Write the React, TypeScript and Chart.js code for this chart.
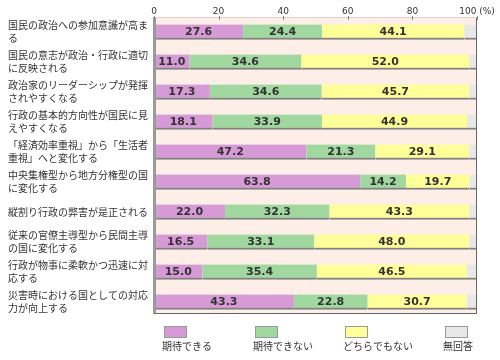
import React, { useEffect, useRef } from "react";
import { Chart, registerables } from "chart.js";

Chart.register(...registerables);

const categories: (string | string[])[] = [
  ["国民の政治への参加意識が高ま", "る"],
  ["国民の意志が政治・行政に適切", "に反映される"],
  ["政治家のリーダーシップが発揮", "されやすくなる"],
  ["行政の基本的方向性が国民に見", "えやすくなる"],
  ["「経済効率重視」から「生活者", "重視」へと変化する"],
  ["中央集権型から地方分権型の国", "に変化する"],
  "縦割り行政の弊害が是正される",
  ["従来の官僚主導型から民間主導", "の国に変化する"],
  ["行政が物事に柔軟かつ迅速に対", "応する"],
  ["災害時における国としての対応", "力が向上する"],
];

const seriesNames = ["期待できる", "期待できない", "どちらでもない", "無回答"];
const expectable = [27.6, 11.0, 17.3, 18.1, 47.2, 63.8, 22.0, 16.5, 15.0, 43.3];
const notExpectable = [24.4, 34.6, 34.6, 33.9, 21.3, 14.2, 32.3, 33.1, 35.4, 22.8];
const neither = [44.1, 52.0, 45.7, 44.9, 29.1, 19.7, 43.3, 48.0, 46.5, 30.7];
const noAnswer = [3.9, 2.4, 2.4, 3.1, 2.4, 2.3, 2.4, 2.4, 3.1, 3.2];
const xTickValues = [0, 20, 40, 60, 80, 100];

const colors = ["#d69bd6", "#a0d8a0", "#ffff99", "#e8e8e8"];

const decorPlugin = {
  id: "decor",
  beforeDatasetsDraw(chart: any) {
    const { ctx, chartArea } = chart;
    const { left, right, top, bottom } = chartArea;
    const bgBottom = bottom - 4;
    ctx.save();
    ctx.fillStyle = "#fdeee7";
    ctx.fillRect(left, top, right - left, bgBottom - top);
    ctx.restore();
  },
  afterDatasetsDraw(chart: any) {
    const { ctx, chartArea } = chart;
    const { left, right, top, bottom } = chartArea;
    const bgBottom = bottom - 4;
    const xs = chart.scales.x;
    ctx.save();
    // frame
    ctx.strokeStyle = "#999999";
    ctx.lineWidth = 3;
    ctx.beginPath();
    ctx.moveTo(left + 0.5, top);
    ctx.lineTo(left + 0.5, bgBottom + 1);
    ctx.stroke();
    ctx.strokeStyle = "#666666";
    ctx.lineWidth = 1;
    ctx.beginPath();
    ctx.moveTo(right - 0.5, top);
    ctx.lineTo(right - 0.5, bgBottom);
    ctx.moveTo(left, bgBottom + 0.5);
    ctx.lineTo(right, bgBottom + 0.5);
    ctx.stroke();
    ctx.strokeStyle = "#e0d0cc";
    ctx.beginPath();
    ctx.moveTo(left, top + 0.5);
    ctx.lineTo(right, top + 0.5);
    ctx.stroke();
    // tick marks
    ctx.strokeStyle = "#888888";
    ctx.beginPath();
    xTickValues.forEach((v) => {
      const x = Math.round(xs.getPixelForValue(v)) + 0.5;
      ctx.moveTo(x, top - 1);
      ctx.lineTo(x, top + 3);
    });
    ctx.stroke();

    // value labels
    ctx.fillStyle = "#333333";
    ctx.font = "bold 11px 'DejaVu Sans'";
    ctx.textAlign = "center";
    ctx.textBaseline = "middle";
    for (let d = 0; d < 3; d++) {
      const meta = chart.getDatasetMeta(d);
      const data = chart.data.datasets[d].data as number[];
      meta.data.forEach((el: any, i: number) => {
        const cx = (el.x + el.base) / 2;
        ctx.fillText(data[i].toFixed(1), cx, el.y);
      });
    }

    // legend
    const legendX = [162, 253, 343, 443];
    ctx.font = "10px 'Noto Sans CJK JP'";
    ctx.textAlign = "left";
    ctx.textBaseline = "middle";
    seriesNames.forEach((name, i) => {
      const x = legendX[i];
      ctx.fillStyle = colors[i];
      ctx.fillRect(x + 2, 326, 22, 11);
      ctx.strokeStyle = "#999999";
      ctx.lineWidth = 1;
      ctx.strokeRect(x + 2 + 0.5, 326 + 0.5, 22, 11);
      ctx.fillStyle = "#333333";
      ctx.fillText(name, x, 346);
    });
    ctx.restore();
  },
};

export default function App() {
  const ref = useRef<HTMLCanvasElement>(null);

  useEffect(() => {
    document.body.style.margin = "0";
    const series = [expectable, notExpectable, neither, noAnswer];
    const chart = new Chart(ref.current!, {
      type: "bar",
      data: {
        labels: categories as any,
        datasets: series.map((s, i) => ({
          label: seriesNames[i],
          data: s,
          backgroundColor: colors[i],
          borderColor: "#808080",
          borderWidth: { top: 0, left: 0, right: 0, bottom: 2 },
          borderSkipped: false,
          barThickness: 15,
        })),
      },
      options: {
        indexAxis: "y",
        animation: false,
        responsive: false,
        layout: { padding: { left: 8, right: 23, top: 0, bottom: 43 } },
        plugins: {
          legend: { display: false },
          tooltip: { enabled: false },
        },
        scales: {
          x: {
            position: "top",
            stacked: true,
            min: 0,
            max: 100,
            afterBuildTicks: (scale: any) => {
              scale.ticks = xTickValues.map((v) => ({ value: v }));
            },
            afterFit: (scale: any) => {
              scale.height = 17;
            },
            grid: { display: false, drawTicks: false },
            border: { display: false },
            ticks: {
              padding: 0,
              color: "#333333",
              font: { family: "'DejaVu Sans'", size: 9 },
              callback: (v: any) => (v === 100 ? "100 (%)" : String(v)),
            },
          },
          y: {
            stacked: true,
            afterFit: (scale: any) => {
              scale.width = 146;
            },
            grid: { display: false },
            border: { display: false },
            ticks: {
              crossAlign: "far",
              color: "#333333",
              font: { family: "'Noto Sans CJK JP'", size: 10, lineHeight: 1.3 },
            },
          },
        },
      },
      plugins: [decorPlugin],
    } as any);
    return () => chart.destroy();
  }, []);

  return (
    <div style={{ width: 500, height: 360 }}>
      <canvas ref={ref} width={500} height={360} />
    </div>
  );
}
